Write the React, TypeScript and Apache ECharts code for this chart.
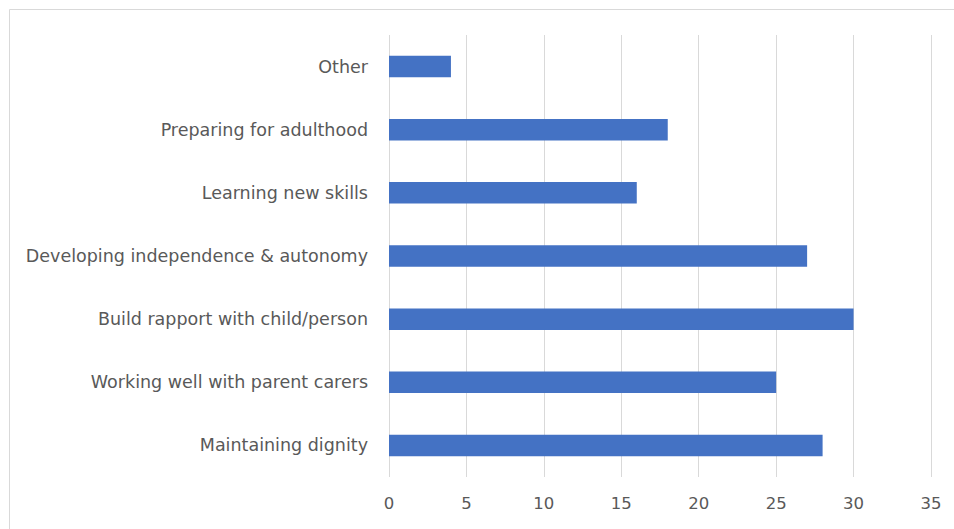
import React, { useEffect, useRef } from "react";
import * as echarts from "echarts";

const categories = [
  "Maintaining dignity",
  "Working well with parent carers",
  "Build rapport with child/person",
  "Developing independence & autonomy",
  "Learning new skills",
  "Preparing for adulthood",
  "Other",
];
const values = [28, 25, 30, 27, 16, 18, 4];
const xTicks = [0, 5, 10, 15, 20, 25, 30, 35];

export default function App() {
  const ref = useRef<HTMLDivElement>(null);
  useEffect(() => {
    document.body.style.margin = "0";
    const chart = echarts.init(ref.current!, null, { renderer: "svg" });
    const font = "'DejaVu Sans', sans-serif";
    chart.setOption({
      animation: false,
      backgroundColor: "#ffffff",
      graphic: [
        {
          type: "rect",
          shape: { x: 9.5, y: 9.5, width: 960, height: 540 },
          style: { fill: "none", stroke: "#d9d9d9", lineWidth: 1 },
          silent: true,
        },
      ],
      grid: { left: 389, right: 23, top: 35, bottom: 52, containLabel: false },
      xAxis: {
        type: "value",
        min: xTicks[0],
        max: xTicks[xTicks.length - 1],
        interval: 5,
        axisLine: { show: false },
        axisTick: { show: false },
        splitLine: { show: true, lineStyle: { color: "#d9d9d9", width: 1 } },
        axisLabel: { color: "#595959", fontSize: 16.5, fontFamily: font, margin: 18 },
      },
      yAxis: {
        type: "category",
        data: categories,
        axisLine: { show: false },
        axisTick: { show: false },
        splitLine: { show: false },
        axisLabel: { color: "#595959", fontSize: 17.5, fontFamily: font, margin: 21 },
      },
      series: [
        {
          type: "bar",
          data: values,
          barWidth: "34%",
          itemStyle: { color: "#4472C4" },
        },
      ],
    });
    return () => chart.dispose();
  }, []);
  return <div ref={ref} style={{ width: 954, height: 529 }} />;
}
